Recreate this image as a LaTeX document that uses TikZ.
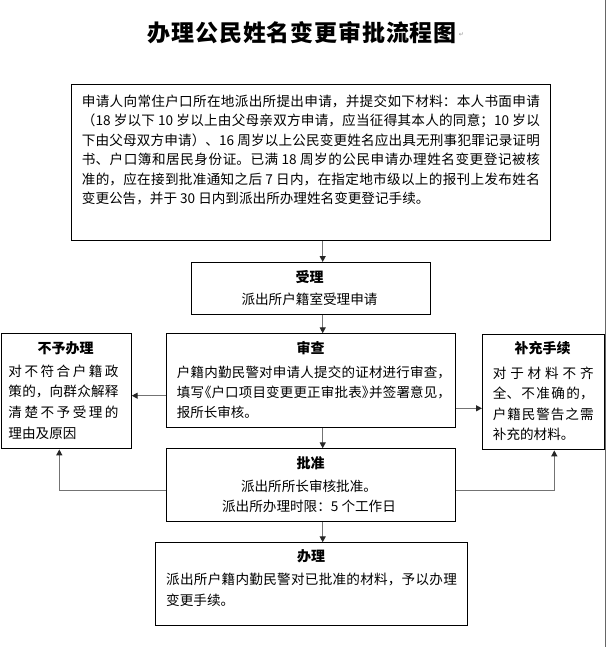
\documentclass[tikz,border=0pt]{standalone}
\usepackage{fontspec}
\setmainfont{Noto Sans CJK SC}
\newfontfamily\dejavu{DejaVu Sans}
\usetikzlibrary{arrows.meta}
\XeTeXlinebreaklocale "zh"
\XeTeXlinebreakskip=0pt\relax
\newcommand\J[2]{\vbox{\hsize=#1\relax\parindent=0pt\parfillskip=0pt\leftskip=0pt\rightskip=0pt\relax
  \XeTeXlinebreakskip=0pt plus 3pt\relax\hbadness=10000\noindent #2\par}}
\newcommand\lbk{\hbox to .55em{\hss《}}
\newcommand\rbk{\hbox to .55em{》\hss}}
\tikzset{
  box/.style={draw=black, line width=1.1pt, inner sep=0pt, anchor=north west},
  head/.style={inner sep=0pt, font=\bfseries\fontsize{14}{16}\selectfont},
  body/.style={inner sep=0pt, anchor=north west, align=left},
  cbody/.style={inner sep=0pt, align=center},
  arr/.style={draw=black!55, line width=1.3pt, -{Triangle[length=6pt,width=6pt,color=black!85]}}
}
\begin{document}
\begin{tikzpicture}[x=1pt,y=-1pt]
\useasboundingbox (0,0) rectangle (606,647);
% page edge line
\draw[black!60, line width=1pt] (605.4,0) -- (605.4,647);
% title
\node[inner sep=0pt, font=\bfseries\fontsize{23}{26}\selectfont] (title) at (302.3,33) {\J{309pt}{办理公民姓名变更审批流程图}};
\node[inner sep=0pt, text=black!45, font=\dejavu\fontsize{6}{6}\selectfont] (mark) at (461.5,34.5) {↵};
% boxes
\node[box, minimum width=479pt, minimum height=156pt] (top) at (71,84) {};
\node[box, minimum width=239pt, minimum height=51.5pt] (shouli) at (190.5,262) {};
\node[box, minimum width=289pt, minimum height=94pt] (shencha) at (166.3,333.3) {};
\node[box, minimum width=130pt, minimum height=115pt] (buyu) at (0.6,333.3) {};
\node[box, minimum width=121.5pt, minimum height=115pt] (buchong) at (482,334.3) {};
\node[box, minimum width=289pt, minimum height=72.7pt] (pizhun) at (166.3,448.3) {};
\node[box, minimum width=312pt, minimum height=82.7pt] (banli) at (155.3,542.3) {};
% texts
\node[body, font=\fontsize{13.6}{19.5}\selectfont] (ttop) at (81.7,94.4) {%
\J{458pt}{申请人向常住户口所在地派出所提出申请，并提交如下材料：本人书面申请}\\
\J{458pt}{（18 岁以下 10 岁以上由父母亲双方申请，应当征得其本人的同意；10 岁以}\\
\J{458pt}{下由父母双方申请）、16 周岁以上公民变更姓名应出具无刑事犯罪记录证明}\\
\J{458pt}{书、户口簿和居民身份证。已满 18 周岁的公民申请办理姓名变更登记被核}\\
\J{458pt}{准的，应在接到批准通知之后 7 日内，在指定地市级以上的报刊上发布姓名}\\
变更公告，并于 30 日内到派出所办理姓名变更登记手续。};
\node[head] (hshouli) at (309.5,277.3) {受理};
\node[cbody, font=\fontsize{13.6}{20}\selectfont] (tshouli) at (309.5,299) {派出所户籍室受理申请};
\node[head] (hshencha) at (310.5,348.3) {审查};
\node[body, font=\fontsize{13.5}{20}\selectfont] (tshencha) at (176.7,365.4) {%
\J{274pt}{户籍内勤民警对申请人提交的证材进行审查，}\\
\J{274pt}{填写\lbk 户口项目变更更正审批表\rbk 并签署意见，}\\
报所长审核。};
\node[head] (hbuyu) at (65.5,348.3) {不予办理};
\node[body, font=\fontsize{13.6}{20.7}\selectfont] (tbuyu) at (8.3,364.4) {%
\J{110pt}{对不符合户籍政}\\
\J{110pt}{策的，向群众解释}\\
\J{110pt}{清楚不予受理的}\\
理由及原因};
\node[head] (hbuchong) at (542.5,348.3) {补充手续};
\node[body, font=\fontsize{13.6}{20.2}\selectfont] (tbuchong) at (492.7,367) {%
\J{100.7pt}{对于材料不齐}\\
\J{100.7pt}{全、不准确的，}\\
\J{100.7pt}{户籍民警告之需}\\
补充的材料。};
\node[head] (hpizhun) at (310.5,463.3) {批准};
\node[cbody, font=\fontsize{13.6}{20}\selectfont] (tpizhun) at (309,496.7) {派出所所长审核批准。\\派出所办理时限：5 个工作日};
\node[head] (hbanli) at (311,556.7) {办理};
\node[body, font=\fontsize{13.6}{20.7}\selectfont] (tbanli) at (166,573) {%
\J{290.7pt}{派出所户籍内勤民警对已批准的材料，予以办理}\\
变更手续。};
% connectors
\coordinate (ax) at (322.7,0);
\coordinate (ly) at (0,395.7);
\coordinate (ry) at (0,408.3);
\coordinate (lx) at (59.3,490.7);
\coordinate (rx) at (554.3,490.7);
\draw[arr] (top.south -| ax) -- (shouli.north -| ax);
\draw[arr] (shouli.south -| ax) -- (shencha.north -| ax);
\draw[arr] (shencha.south -| ax) -- (pizhun.north -| ax);
\draw[arr] (pizhun.south -| ax) -- (banli.north -| ax);
\draw[arr] (shencha.west |- ly) -- (buyu.east |- ly);
\draw[arr] (shencha.east |- ry) -- (buchong.west |- ry);
\draw[arr] (pizhun.west |- lx) -| (buyu.south -| lx);
\draw[arr] (pizhun.east |- rx) -| (buchong.south -| rx);
\end{tikzpicture}
\end{document}
